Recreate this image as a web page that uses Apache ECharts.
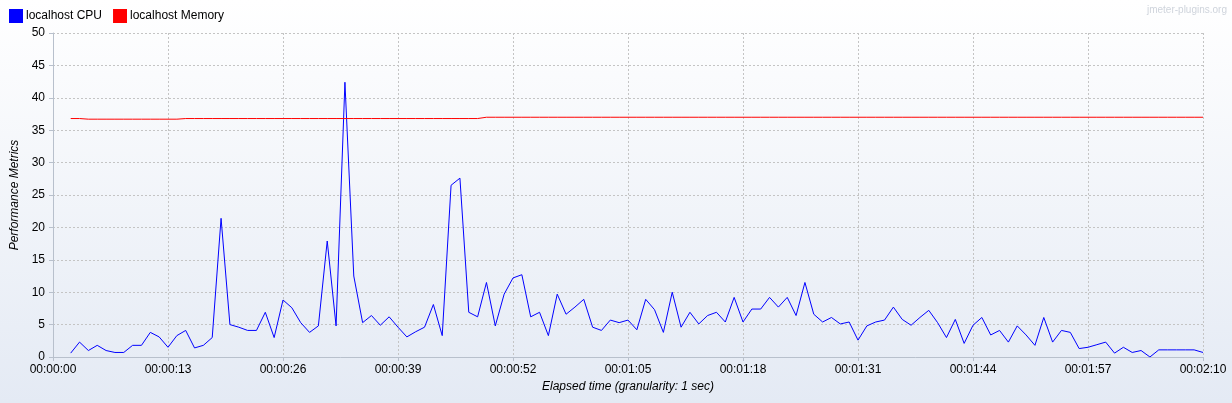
<!DOCTYPE html>
<html>
<head>
<meta charset="utf-8">
<script src="https://cdn.jsdelivr.net/npm/echarts@6/dist/echarts.min.js"></script>
<style>
html,body{margin:0;padding:0;}
#c{width:1232px;height:403px;}
</style>
</head>
<body>
<div id="c"></div>
<script>
const seconds = [2,3,4,5,6,7,8,9,10,11,12,13,14,15,16,17,18,19,20,21,22,23,24,25,26,27,28,29,30,31,32,33,34,35,36,37,38,39,40,41,42,43,44,45,46,47,48,49,50,51,52,53,54,55,56,57,58,59,60,61,62,63,64,65,66,67,68,69,70,71,72,73,74,75,76,77,78,79,80,81,82,83,84,85,86,87,88,89,90,91,92,93,94,95,96,97,98,99,100,101,102,103,104,105,106,107,108,109,110,111,112,113,114,115,116,117,118,119,120,121,122,123,124,125,126,127,128,129,130];
const cpu = [0.6,2.3,1.0,1.8,1.0,0.7,0.7,1.8,1.8,3.8,3.1,1.5,3.3,4.1,1.4,1.8,3.0,21.4,5.0,4.6,4.1,4.1,6.9,3.0,8.8,7.6,5.3,3.8,4.8,17.9,4.8,42.4,12.5,5.3,6.4,4.9,6.2,4.6,3.1,3.9,4.6,8.1,3.3,26.5,27.6,6.9,6.2,11.5,4.8,9.7,12.2,12.7,6.2,6.9,3.3,9.7,6.6,7.7,8.9,4.6,4.1,5.7,5.3,5.7,4.2,8.9,7.3,3.8,10.0,4.6,6.9,5.1,6.4,6.9,5.4,9.2,5.4,7.4,7.4,9.2,7.7,9.2,6.4,11.5,6.6,5.4,6.1,5.1,5.4,2.6,4.8,5.4,5.7,7.7,5.8,4.9,6.1,7.2,5.3,3.0,5.8,2.1,4.9,6.1,3.4,4.1,2.3,4.8,3.4,1.8,6.1,2.3,4.1,3.8,1.3,1.5,1.9,2.3,0.6,1.5,0.7,1.0,0.0,1.1,1.1,1.1,1.1,1.1,0.7];
const memory = [36.8,36.8,
36.7,36.7,36.7,36.7,36.7,36.7,36.7,36.7,36.7,36.7,36.7,
36.8,36.8,36.8,36.8,36.8,36.8,36.8,36.8,36.8,36.8,36.8,36.8,36.8,36.8,36.8,36.8,36.8,36.8,36.8,36.8,36.8,36.8,36.8,36.8,36.8,36.8,36.8,36.8,36.8,36.8,36.8,36.8,36.8,36.8,
37.0,37.0,37.0,37.0,37.0,37.0,37.0,37.0,37.0,37.0,37.0,37.0,37.0,37.0,37.0,37.0,37.0,37.0,37.0,37.0,37.0,37.0,37.0,37.0,37.0,37.0,37.0,37.0,37.0,37.0,37.0,37.0,37.0,37.0,37.0,37.0,37.0,37.0,37.0,37.0,37.0,37.0,37.0,37.0,37.0,37.0,37.0,37.0,37.0,37.0,37.0,37.0,37.0,37.0,37.0,37.0,37.0,37.0,37.0,37.0,37.0,37.0,37.0,37.0,37.0,37.0,37.0,37.0,37.0,37.0,37.0,37.0,37.0,37.0,37.0,37.0,37.0,37.0,37.0,37.0,37.0,37.0];
const seriesNames = ['localhost CPU','localhost Memory'];
const xTitle = 'Elapsed time (granularity: 1 sec)';
const yTitle = 'Performance Metrics';
const watermark = 'jmeter-plugins.org';

function fmt(s){
  const h=Math.floor(s/3600), m=Math.floor((s%3600)/60), ss=Math.round(s%60);
  const p=n=>String(n).padStart(2,'0');
  return p(h)+':'+p(m)+':'+p(ss);
}
const font = 'Liberation Sans, Arial, sans-serif';
const chart = echarts.init(document.getElementById('c'), null, {renderer:'canvas'});
chart.setOption({
  animation:false,
  backgroundColor:{type:'linear',x:0,y:0,x2:0,y2:1,colorStops:[{offset:0,color:'#ffffff'},{offset:1,color:'#e4eaf4'}]},
  textStyle:{fontFamily:font},
  legend:{
    left:9, top:9, padding:0, itemWidth:14, itemHeight:14, itemGap:11,
    icon:'rect',
    textStyle:{fontSize:12,color:'#000',fontFamily:font,padding:[0,0,0,-2]},
    data:seriesNames
  },
  graphic:[{type:'text',right:5,top:5,style:{text:watermark,fill:'#cfd4dc',font:'10px '+font}}],
  grid:{left:53,right:29,top:33,bottom:46,containLabel:false},
  xAxis:{
    type:'value',min:0,max:130,interval:13,
    name:xTitle,nameLocation:'middle',nameGap:24,
    nameTextStyle:{fontStyle:'italic',fontSize:12,color:'#000',fontFamily:font},
    axisLine:{show:true,lineStyle:{color:'#b8c0cc'}},
    axisTick:{show:true,length:4,lineStyle:{color:'#b8c0cc'}},
    axisLabel:{formatter:fmt,fontSize:12,color:'#000',margin:7,fontFamily:font},
    splitLine:{show:true,lineStyle:{color:'#c4c4c4',type:[2,2]}}
  },
  yAxis:{
    type:'value',min:0,max:50,interval:5,
    name:yTitle,nameLocation:'middle',nameGap:32,
    nameTextStyle:{fontStyle:'italic',fontSize:12,color:'#000',fontFamily:font},
    axisLine:{show:true,lineStyle:{color:'#b8c0cc'}},
    axisTick:{show:true,length:4,lineStyle:{color:'#b8c0cc'}},
    axisLabel:{fontSize:12,color:'#000',margin:8,fontFamily:font,padding:[2,0,0,0]},
    splitLine:{show:true,lineStyle:{color:'#c4c4c4',type:[2,2]}}
  },
  series:[
    {name:seriesNames[0],type:'line',showSymbol:false,symbol:'none',color:'#0000ff',
     lineStyle:{width:1,color:'#0000ff'},data:seconds.map((s,i)=>[s,cpu[i]])},
    {name:seriesNames[1],type:'line',showSymbol:false,symbol:'none',color:'#ff0000',
     lineStyle:{width:1,color:'#ff0000'},data:seconds.map((s,i)=>[s,memory[i]])}
  ]
});
</script>
</body>
</html>
